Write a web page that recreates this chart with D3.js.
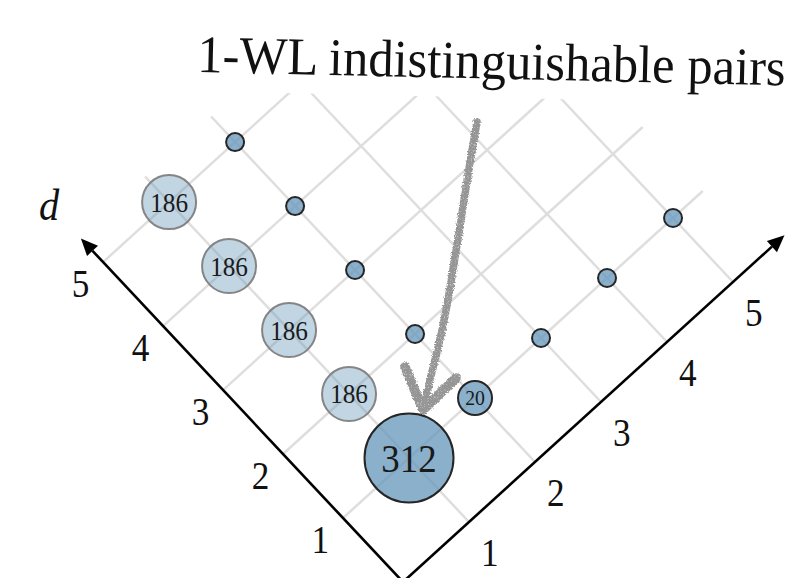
<!DOCTYPE html>
<html>
<head>
<meta charset="utf-8">
<script src="https://cdn.jsdelivr.net/npm/d3@7"></script>
<style>
  body { margin: 0; background: #fff; }
  svg { display: block; font-family: "Liberation Serif", "Times New Roman", serif; }
</style>
</head>
<body>
<div id="chart"></div>
<script>
// tick labels on the two axes
const xTicks = [1, 2, 3, 4, 5];
const dTicks = [1, 2, 3, 4, 5];

// pairs on the grid: x position, d position, count (0 = small unlabelled dot)
const pointX = [1, 2, 3, 4, 5, 1, 1, 1, 1, 2, 2, 2, 2];
const pointD = [1, 1, 1, 1, 1, 2, 3, 4, 5, 2, 3, 4, 5];
const pointCount = [312, 20, 0, 0, 0, 186, 186, 186, 186, 0, 0, 0, 0];
const pointFaded = [false, false, false, false, false, true, true, true, true, false, false, false, false];

const title = '1-WL indistinguishable pairs';
const dLabel = 'd';

// hand drawn arrow (annotation, page pixels)
const arrowShaft = [[477, 122], [469, 167], [459, 233], [451, 283], [442, 333], [433, 367], [423, 410]];
const arrowBarbs = [[[405, 367], [423, 410]], [[456, 378], [423, 410]]];

const width = 805, height = 578;

const svg = d3.select('#chart').append('svg')
  .attr('width', width)
  .attr('height', height);

// skewed diamond frame: x runs up-right, d runs up-left
const origin = [403, 582];
const xAngle = Math.atan2(-60, 66);
const dAngle = Math.atan2(-64, -60);
const xLen = d3.scaleLinear().domain([0, 1]).range([0, 89.2]);
const dLen = d3.scaleLinear().domain([0, 1]).range([0, 87.7]);

function project(x, d) {
  return [
    origin[0] + xLen(x) * Math.cos(xAngle) + dLen(d) * Math.cos(dAngle),
    origin[1] + xLen(x) * Math.sin(xAngle) + dLen(d) * Math.sin(dAngle)
  ];
}

const radius = d3.scaleLinear().domain([0, 20, 186, 312]).range([9, 17, 27, 44.5]);
const fontSize = d3.scaleLinear().domain([20, 186, 312]).range([22, 28, 41]);

// pencil look for the annotation
const defs = svg.append('defs');
const pencil = defs.append('filter').attr('id', 'pencil')
  .attr('x', '-20%').attr('y', '-20%').attr('width', '140%').attr('height', '140%');
pencil.append('feTurbulence').attr('type', 'fractalNoise')
  .attr('baseFrequency', 0.9).attr('numOctaves', 2).attr('result', 'noise');
pencil.append('feDisplacementMap').attr('in', 'SourceGraphic').attr('in2', 'noise')
  .attr('scale', 4).attr('xChannelSelector', 'R').attr('yChannelSelector', 'G')
  .attr('result', 'disp');
pencil.append('feTurbulence').attr('type', 'fractalNoise')
  .attr('baseFrequency', 1.7).attr('numOctaves', 1).attr('seed', 3).attr('result', 'grain');
pencil.append('feColorMatrix').attr('in', 'grain').attr('type', 'matrix')
  .attr('values', '0 0 0 0 0  0 0 0 0 0  0 0 0 0 0  0 0 0 -2 2.1').attr('result', 'mask');
pencil.append('feComposite').attr('in', 'disp').attr('in2', 'mask').attr('operator', 'in');

// grid
const xMax = 5.45, dMax = 5.4;
const grid = svg.append('g')
  .attr('stroke', '#dedede')
  .attr('stroke-width', 2.5);

grid.selectAll('line.dline').data(dTicks).join('line')
  .attr('class', 'dline')
  .attr('x1', d => project(0, d)[0]).attr('y1', d => project(0, d)[1])
  .attr('x2', d => project(xMax, d)[0]).attr('y2', d => project(xMax, d)[1]);

grid.selectAll('line.xline').data(xTicks).join('line')
  .attr('class', 'xline')
  .attr('x1', x => project(x, 0)[0]).attr('y1', x => project(x, 0)[1])
  .attr('x2', x => project(x, dMax)[0]).attr('y2', x => project(x, dMax)[1]);

// title, on a white band that hides the far end of the grid
const titleG = svg.append('g').attr('transform', 'translate(197,72) rotate(1.3)');
titleG.append('rect')
  .attr('x', -60).attr('y', -80).attr('width', 700).attr('height', 99)
  .attr('fill', '#fff');
titleG.append('text')
  .attr('transform', 'scale(0.955,1)')
  .attr('font-size', 53)
  .attr('fill', '#111')
  .text(title);

// axes with arrow heads
function axisArrow(tip, angle) {
  const len = 17, half = 7.5;
  const back = [tip[0] - len * Math.cos(angle), tip[1] - len * Math.sin(angle)];
  const nx = -Math.sin(angle), ny = Math.cos(angle);
  svg.append('line')
    .attr('x1', origin[0]).attr('y1', origin[1])
    .attr('x2', back[0]).attr('y2', back[1])
    .attr('stroke', '#000').attr('stroke-width', 2.6);
  svg.append('path')
    .attr('d', d3.line()([tip, [back[0] + nx * half, back[1] + ny * half], [back[0] - nx * half, back[1] - ny * half]]) + 'Z')
    .attr('fill', '#000');
}
axisArrow(project(0, 5.37), dAngle);
axisArrow(project(5.78, 0), xAngle);

// tick labels (slightly condensed, like the original)
const dOff = [Math.sin(dAngle) * 31, -Math.cos(dAngle) * 31];
const xOff = [-Math.sin(xAngle) * 37 - 4, Math.cos(xAngle) * 37 + 3];

function tickLabels(ticks, pos) {
  svg.append('g').selectAll('text').data(ticks).join('text')
    .attr('transform', t => `translate(${pos(t)}) scale(0.88,1)`)
    .attr('text-anchor', 'middle').attr('dominant-baseline', 'central')
    .attr('font-size', 40).attr('fill', '#111')
    .text(t => t);
}
tickLabels(dTicks, d => [project(0, d)[0] + dOff[0], project(0, d)[1] + dOff[1]]);
tickLabels(xTicks, x => [project(x, 0)[0] + xOff[0], project(x, 0)[1] + xOff[1]]);

svg.append('text')
  .attr('transform', 'translate(49,205) scale(0.92,1)')
  .attr('text-anchor', 'middle').attr('dominant-baseline', 'central')
  .attr('font-size', 44).attr('font-style', 'italic').attr('fill', '#111')
  .text(dLabel);

// points
const points = pointX.map((x, i) => ({ x, d: pointD[i], count: pointCount[i], faded: pointFaded[i] }));

const pts = svg.append('g').selectAll('g').data(points).join('g')
  .attr('transform', p => `translate(${project(p.x, p.d)})`);

pts.append('circle')
  .attr('r', p => radius(p.count))
  .attr('fill', 'rgb(100,150,185)')
  .attr('fill-opacity', p => p.faded ? 0.4 : 0.75)
  .attr('stroke', p => p.faded ? '#858585' : '#262626')
  .attr('stroke-width', 2);

pts.filter(p => p.count > 0).append('text')
  .attr('transform', 'scale(0.9,1)')
  .attr('text-anchor', 'middle').attr('dominant-baseline', 'central')
  .attr('font-size', p => fontSize(p.count))
  .attr('fill', '#1a1a1a')
  .text(p => p.count);

// annotation arrow
const ann = svg.append('g')
  .attr('fill', 'none')
  .attr('stroke', '#959595')
  .attr('stroke-linecap', 'round')
  .attr('stroke-linejoin', 'round')
  .attr('filter', 'url(#pencil)');

ann.append('path')
  .attr('d', d3.line().curve(d3.curveBasis)(arrowShaft))
  .attr('stroke-width', 7.5);

ann.selectAll('path.barb').data(arrowBarbs).join('path')
  .attr('class', 'barb')
  .attr('d', d3.line())
  .attr('stroke-width', 9.5);
</script>
</body>
</html>
